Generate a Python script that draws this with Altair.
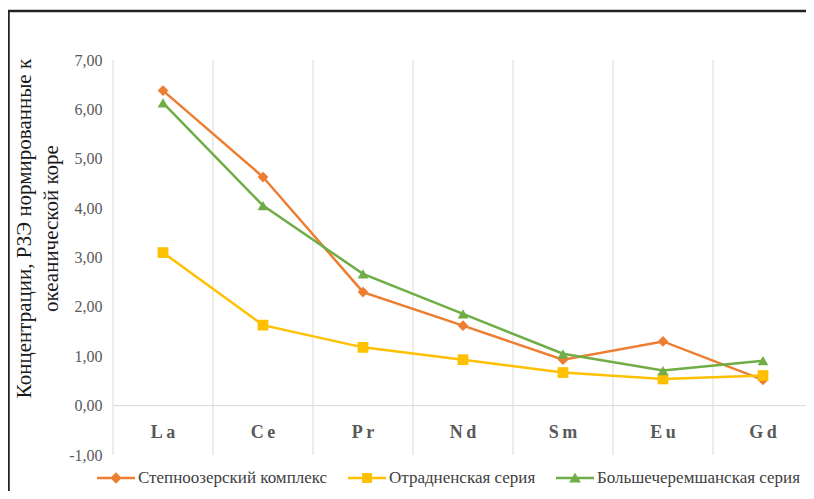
import altair as alt
import pandas as pd

elements = ["La", "Ce", "Pr", "Nd", "Sm", "Eu", "Gd"]
series_names = ["Степноозерский комплекс", "Отрадненская серия", "Большечеремшанская серия"]
stepnoozersky = [6.38, 4.63, 2.30, 1.62, 0.93, 1.30, 0.52]
otradnenskaya = [3.10, 1.63, 1.18, 0.93, 0.67, 0.54, 0.61]
bolshecheremsh = [6.13, 4.05, 2.67, 1.86, 1.05, 0.71, 0.91]
colors = ["#ED7D31", "#FFC000", "#70AD47"]
y_ticks = [-1, 0, 1, 2, 3, 4, 5, 6, 7]
y_title = ["Концентрации, РЗЭ нормированные к", "океанической коре"]

rows = []
for name, vals in zip(series_names, [stepnoozersky, otradnenskaya, bolshecheremsh]):
    for i, (el, v) in enumerate(zip(elements, vals)):
        rows.append({"element": el, "value": v, "series": name, "order": i})
df = pd.DataFrame(rows)
cats = pd.DataFrame({"element": elements})
zero = pd.DataFrame({"value": [0]})
frame = pd.DataFrame({"a": [0]})

W, H = 693, 395
FONT = "'Liberation Serif', 'Times New Roman', serif"

xscale = alt.Scale(domain=elements, paddingInner=0, paddingOuter=0, range=[0, 700])
yscale = alt.Scale(domain=[-1, 7], nice=False, zero=False)

x_axis = alt.Axis(domain=False, ticks=False, tickSize=0, grid=False, labelAngle=0,
                  labelFont=FONT, labelFontSize=18, labelFontWeight="bold",
                  labelColor="#595959", labelBaseline="middle", labelPadding=-23,
                  labelExpr="join(split(datum.label, ''), '\u2009')")
y_axis = alt.Axis(values=y_ticks, domain=False, ticks=False, tickSize=0, grid=False,
                  labelFont=FONT, labelFontSize=16, labelColor="#595959", labelPadding=11,
                  labelExpr="(datum.value < 0 ? '-' : '') + replace(format(abs(datum.value), '.2f'), '.', ',')",
                  titleFont=FONT, titleFontSize=21, titleFontWeight="normal",
                  titleColor="#1a1a1a", titleLineHeight=27, titleAngle=-90,
                  titleAlign="center", titleBaseline="bottom", titleX=-79, titleY=168)


def xe(**kw):
    return alt.X("element:N", scale=xscale, sort=elements, title=None, axis=x_axis, **kw)


def ye():
    return alt.Y("value:Q", scale=yscale, title=y_title, axis=y_axis)


color_scale = alt.Scale(domain=series_names, range=colors)

grid_v = alt.Chart(cats).mark_rule(color="#d9d9d9", strokeWidth=1).encode(
    x=xe(bandPosition=0)
)
zero_line = alt.Chart(zero).mark_rule(color="#d9d9d9", strokeWidth=1).encode(y=ye())

lines = alt.Chart(df).mark_line(strokeWidth=2.5).encode(
    x=xe(), y=ye(),
    color=alt.Color("series:N", scale=color_scale, legend=None),
    detail="series:N",
    order="order:Q",
)
points = alt.Chart(df).mark_point(filled=True, opacity=1, size=115).encode(
    x=xe(), y=ye(),
    color=alt.Color("series:N", scale=color_scale, legend=None),
    shape=alt.Shape("series:N", scale=alt.Scale(domain=series_names,
                                                range=["diamond", "square", "triangle-up"]),
                    legend=None),
)

bar = "M-1,-0.07H1V0.07H-1Z"
legend_paths = [
    bar + "M0,-0.3L0.3,0L0,0.3L-0.3,0Z",
    bar + "M-0.26,-0.26H0.26V0.26H-0.26Z",
    bar + "M0,-0.28L0.31,0.24L-0.31,0.24Z",
]
leg = alt.Legend(orient="none", legendX=-16, legendY=399,
                 direction="horizontal", columns=3,
                 symbolSize=1444, symbolStrokeWidth=0, labelLimit=400,
                 labelFont=FONT, labelFontSize=17, labelColor="#404040",
                 labelOffset=3, columnPadding=20, symbolOpacity=1)
legend_layer = alt.Chart(df).transform_filter("false").mark_point(filled=True, opacity=1).encode(
    x=xe(), y=ye(),
    color=alt.Color("series:N", scale=color_scale, title=None, legend=leg),
    shape=alt.Shape("series:N", scale=alt.Scale(domain=series_names, range=legend_paths),
                    title=None, legend=leg),
)

border = alt.Chart(frame).mark_rect(filled=False, stroke="#222222", strokeWidth=2.5).encode(
    x=alt.value(-104.5), x2=alt.value(760), y=alt.value(-49), y2=alt.value(480)
)

chart = alt.layer(grid_v, zero_line, lines, points, legend_layer, border).resolve_scale(
    color="independent", shape="independent"
).properties(
    width=W, height=H,
    padding={"left": 105, "top": 52, "right": 0, "bottom": 36},
    autosize=alt.AutoSizeParams(type="none"),
    background="white",
).configure_view(stroke=None)

chart.save("out.html", embed_options={"renderer": "svg", "actions": False})
